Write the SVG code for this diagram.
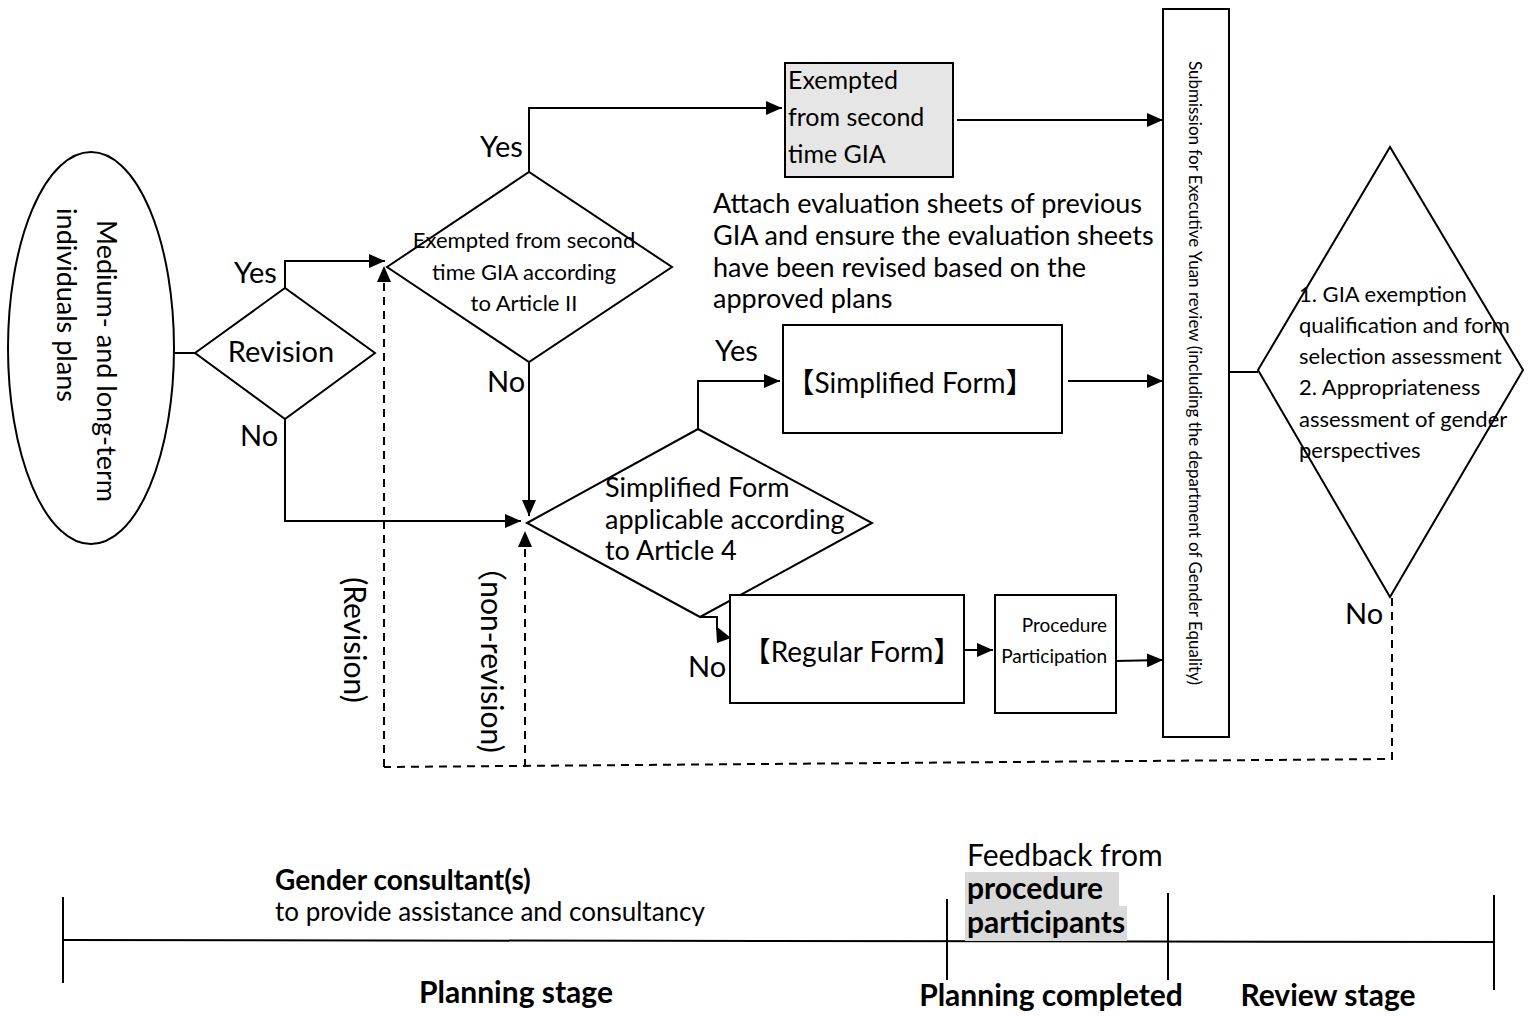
<svg xmlns="http://www.w3.org/2000/svg" width="1533" height="1017" viewBox="0 0 1533 1017">
<style>
.t{font-family:Lato,"Noto Sans CJK SC",sans-serif;fill:#000}
.b{font-weight:bold}
.s{stroke:#000;stroke-width:2;fill:none}
.box{stroke:#000;stroke-width:2;fill:#fff}
.d{stroke-dasharray:8 6}
.lbl{font-size:29px}
</style>
<defs>
<marker id="ah" markerUnits="userSpaceOnUse" markerWidth="16" markerHeight="14" refX="16" refY="7" orient="auto">
<path d="M0,0 L16,7 L0,14 z" fill="#000"/>
</marker>
</defs>
<rect width="1533" height="1017" fill="#fff"/>

<g id="plans">
<ellipse class="box" cx="91" cy="348" rx="83" ry="196"/>
<text class="t" font-size="27" text-anchor="middle" transform="translate(97,361) rotate(90)">Medium- and long-term</text>
<text class="t" font-size="27" text-anchor="middle" transform="translate(57,305) rotate(90)">individuals plans</text>
</g>

<g id="revision">
<polygon class="box" points="195,353 285,288 375,353 285,419"/>
<text class="t lbl" x="281" y="362" text-anchor="middle">Revision</text>
</g>

<g id="exempt-decision">
<polygon class="box" points="387,267 529,172 672,267 529,362"/>
<text class="t" font-size="22" x="524" y="248" text-anchor="middle">Exempted from second</text>
<text class="t" font-size="22" x="524" y="280" text-anchor="middle">time GIA according</text>
<text class="t" font-size="22" x="524" y="311" text-anchor="middle">to Article II</text>
</g>

<g id="exempted-box">
<rect x="785" y="63" width="168" height="114" fill="#e7e6e6" stroke="#000" stroke-width="2"/>
<text class="t" font-size="25" x="788" y="89">Exempted</text>
<text class="t" font-size="25" x="788" y="126">from second</text>
<text class="t" font-size="25" x="788" y="163">time GIA</text>
</g>

<g id="attach-note">
<text class="t" font-size="27" x="713" y="213">Attach evaluation sheets of previous</text>
<text class="t" font-size="27" x="713" y="245">GIA and ensure the evaluation sheets</text>
<text class="t" font-size="27" x="713" y="277">have been revised based on the</text>
<text class="t" font-size="27" x="713" y="308">approved plans</text>
</g>

<g id="simplified-decision">
<polygon class="box" points="527,523 698,429 872,523 700,617"/>
<text class="t" font-size="27" x="605" y="497">Simplified Form</text>
<text class="t" font-size="27" x="605" y="529">applicable according</text>
<text class="t" font-size="27" x="605" y="560">to Article 4</text>
</g>

<g id="simplified-form">
<rect class="box" x="783" y="325" width="279" height="108"/>
<text class="t" font-size="28" x="910" y="393" text-anchor="middle">【Simplified Form】</text>
</g>

<g id="regular-form">
<rect class="box" x="730" y="595" width="234" height="108"/>
<text class="t" font-size="28" x="852" y="662" text-anchor="middle">【Regular Form】</text>
</g>

<g id="procedure">
<rect class="box" x="995" y="595" width="121" height="118"/>
<text class="t" font-size="19" x="1107" y="632" text-anchor="end">Procedure</text>
<text class="t" font-size="19" x="1107" y="663" text-anchor="end">Participation</text>
</g>

<g id="submission">
<rect class="box" x="1163" y="9" width="66" height="728"/>
<text class="t" font-size="17" text-anchor="middle" transform="translate(1189,373) rotate(90)">Submission for Executive Yuan review (including the department of Gender Equality)</text>
</g>

<g id="assessment">
<polygon class="box" points="1258,370 1390,147 1523,370 1390,597"/>
<text class="t" font-size="22" x="1299" y="302">1. GIA exemption</text>
<text class="t" font-size="22" x="1299" y="333">qualification and form</text>
<text class="t" font-size="22" x="1299" y="364">selection assessment</text>
<text class="t" font-size="22" x="1299" y="395">2. Appropriateness</text>
<text class="t" font-size="22" x="1299" y="427">assessment of gender</text>
<text class="t" font-size="22" x="1299" y="458">perspectives</text>
</g>

<g id="connectors">
<path class="s" d="M173,353 H195"/>
<path class="s" d="M285,288 V261 H385" marker-end="url(#ah)"/>
<path class="s" d="M285,419 V521 H521" marker-end="url(#ah)"/>
<path class="s" d="M529,172 V108 H782" marker-end="url(#ah)"/>
<path class="s" d="M529,362 V516" marker-end="url(#ah)"/>
<path class="s" d="M957,120 H1163" marker-end="url(#ah)"/>
<path class="s" d="M698,429 V381 H780" marker-end="url(#ah)"/>
<path class="s" d="M1068,381 H1163" marker-end="url(#ah)"/>
<path class="s" d="M700,617 H717 V630"/>
<path d="M716,626 L731,638 L717,643 z" fill="#000"/>
<path class="s" d="M963,650 H993" marker-end="url(#ah)"/>
<path class="s" d="M1115,661 L1163,660" marker-end="url(#ah)"/>
<path class="s" d="M1229,372 H1258"/>
<path class="s d" d="M1392,598 V759 L384,767"/>
<path class="s d" d="M384,767 V266" marker-end="url(#ah)"/>
<path class="s d" d="M525,767 V531" marker-end="url(#ah)"/>
<text class="t lbl" x="234" y="283">Yes</text>
<text class="t lbl" x="240" y="446">No</text>
<text class="t lbl" x="480" y="157">Yes</text>
<text class="t lbl" x="487" y="392">No</text>
<text class="t lbl" x="715" y="361">Yes</text>
<text class="t lbl" x="688" y="677">No</text>
<text class="t lbl" x="1345" y="624">No</text>
<text class="t" font-size="30" text-anchor="middle" transform="translate(344,640) rotate(90)">(Revision)</text>
<text class="t" font-size="30" text-anchor="middle" transform="translate(481,652) rotate(90)">（non-revision)</text>
</g>

<g id="timeline">
<path class="s" d="M63,940 L1493,942"/>
<path class="s" d="M63,897 V983 M947,899 V980 M1168,893 V980 M1494,895 V990"/>
<rect x="965" y="872" width="154" height="34" fill="#d9d9d9"/>
<rect x="965" y="906" width="162" height="35" fill="#d9d9d9"/>
<text class="t b" font-size="28" x="275" y="890">Gender consultant(s)</text>
<text class="t" font-size="26" x="275" y="921">to provide assistance and consultancy</text>
<text class="t b" font-size="30" x="516" y="1003" text-anchor="middle">Planning stage</text>
<text class="t" font-size="30" x="967" y="866">Feedback from</text>
<text class="t b" font-size="30" x="967" y="899">procedure</text>
<text class="t b" font-size="30" x="967" y="933">participants</text>
<text class="t b" font-size="30" x="1051" y="1006" text-anchor="middle">Planning completed</text>
<text class="t b" font-size="30" x="1328" y="1006" text-anchor="middle">Review stage</text>
</g>
</svg>
